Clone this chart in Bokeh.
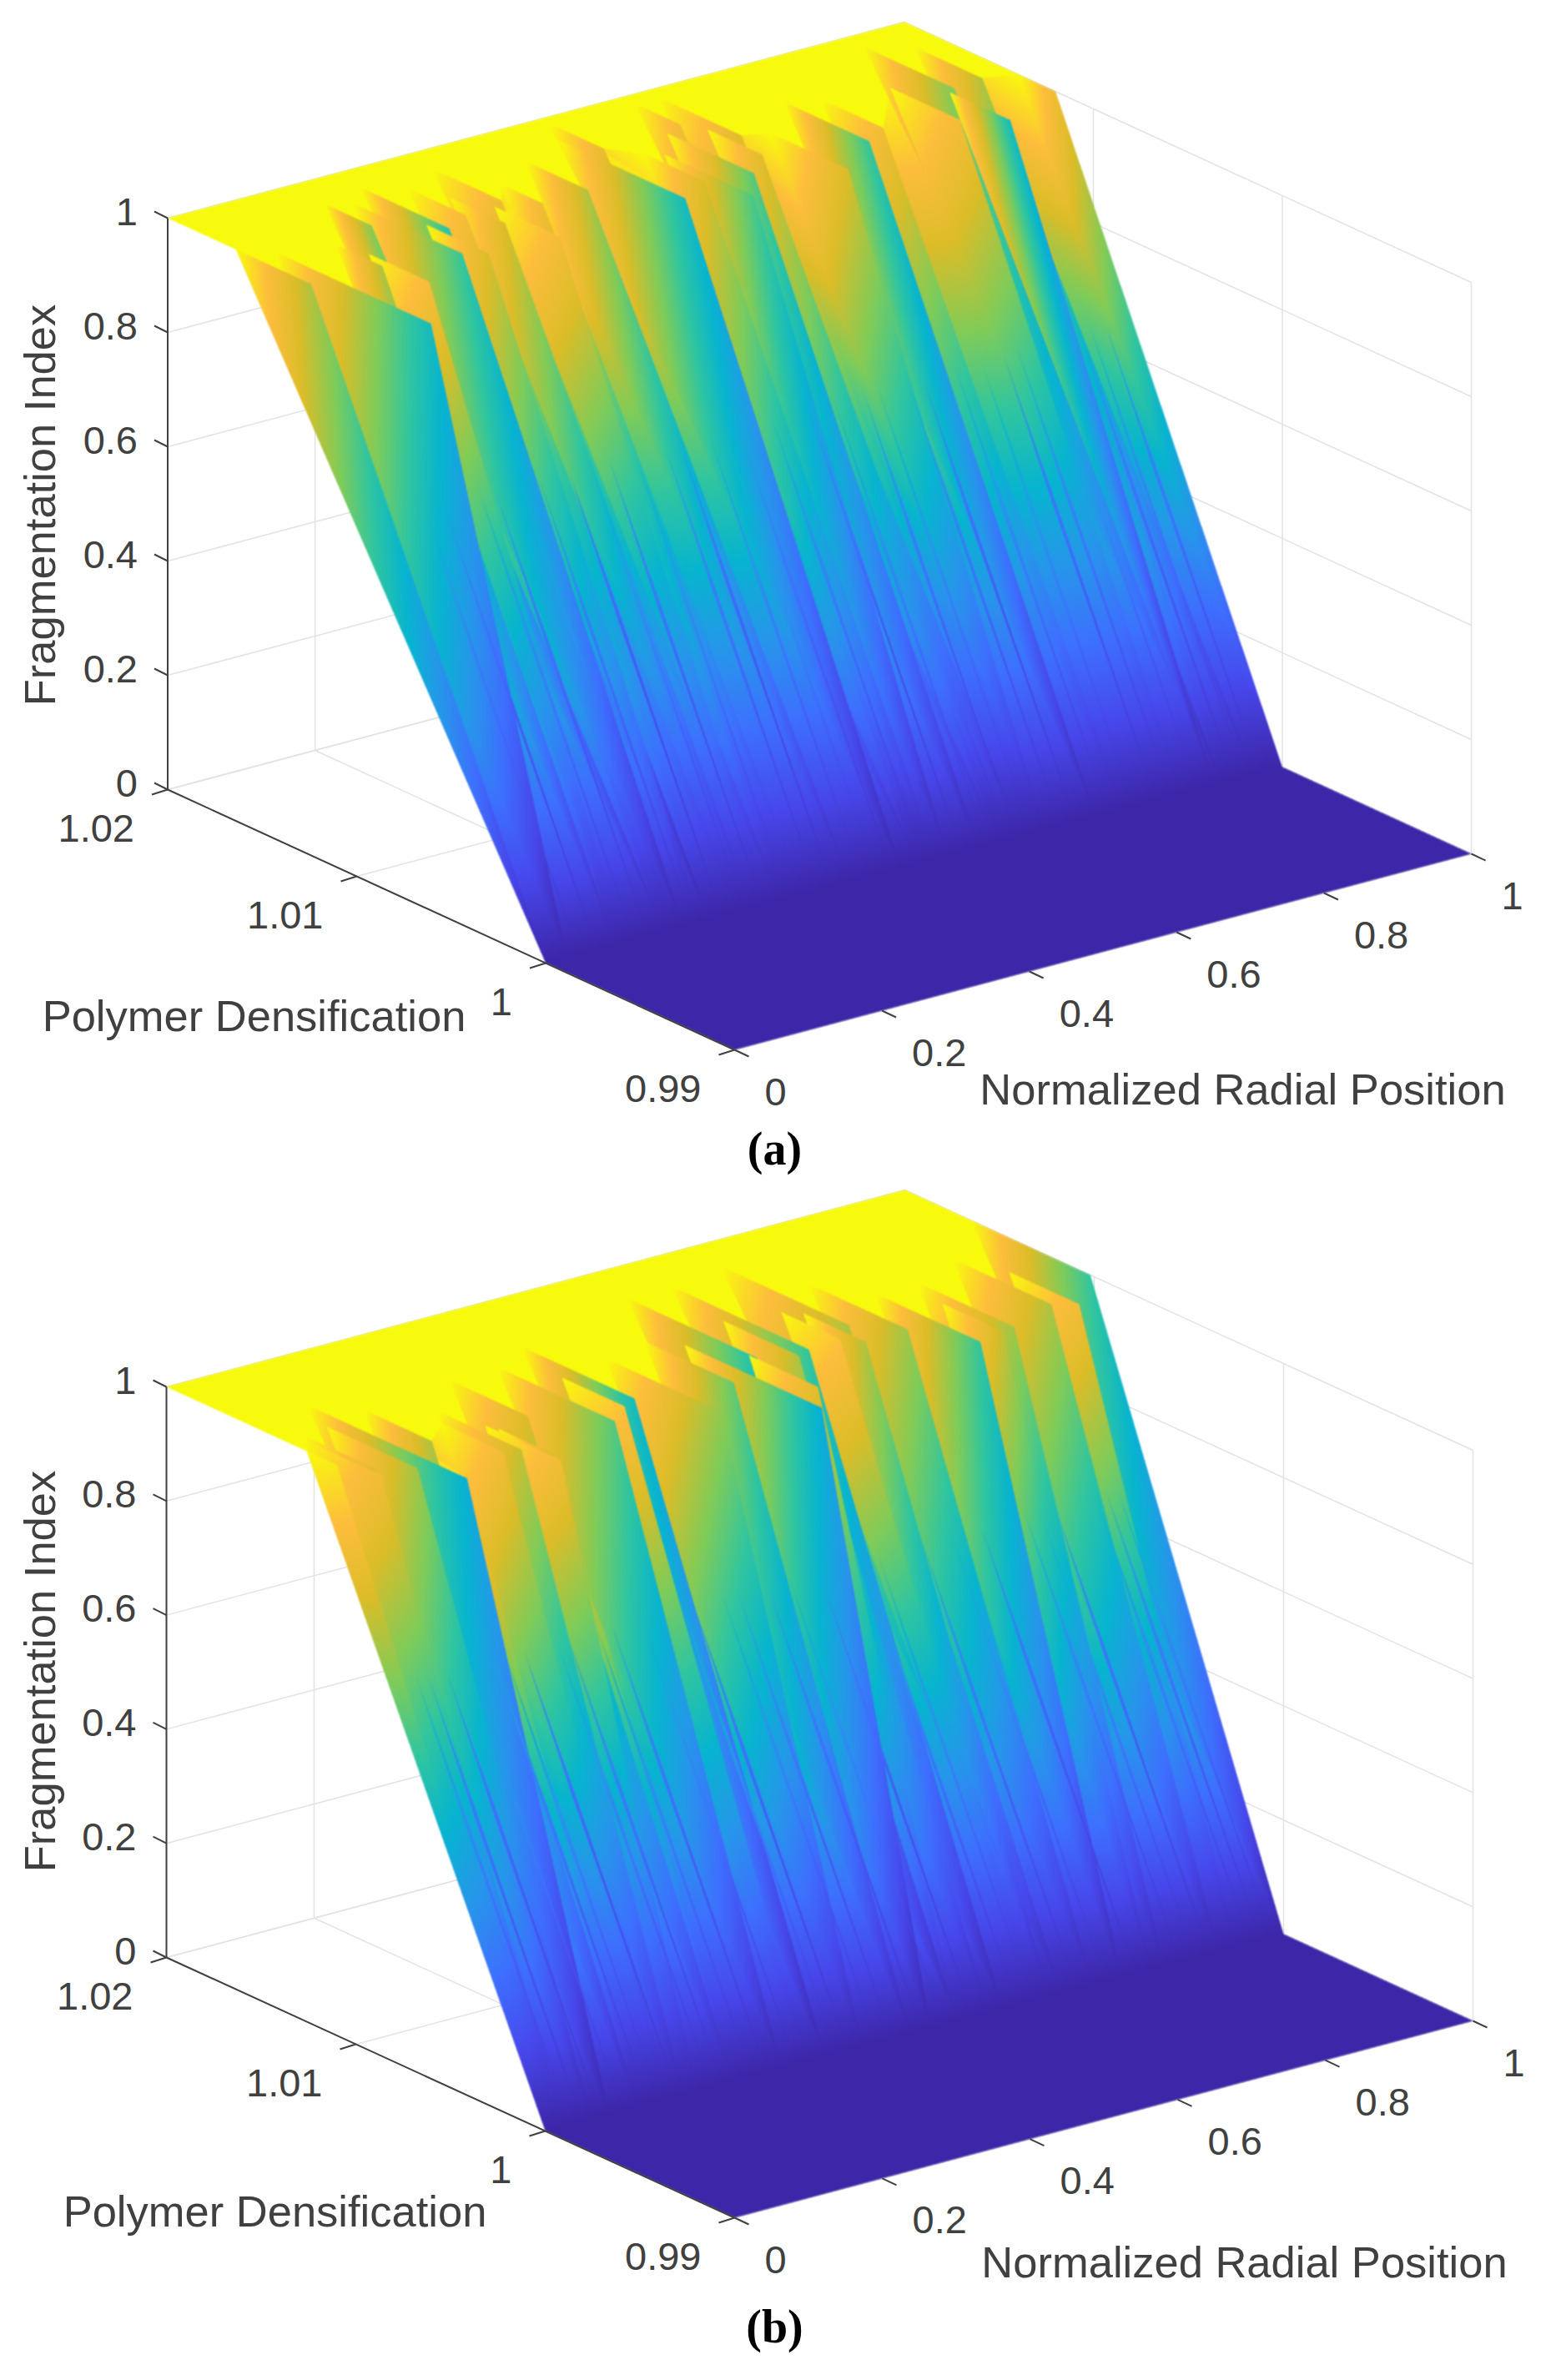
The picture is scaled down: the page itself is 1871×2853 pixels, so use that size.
from bokeh.embed import file_html
from bokeh.resources import INLINE
from bokeh.plotting import figure
from bokeh.core.properties import value
import numpy as np

# ---------- DATA: sawtooth ridge of the surface ----------
z_ticks = [0, 0.2, 0.4, 0.6, 0.8, 1]
z_tick_labels = ["0", "0.2", "0.4", "0.6", "0.8", "1"]
rad_ticks = [0, 0.2, 0.4, 0.6, 0.8, 1]
rad_tick_labels = ["0", "0.2", "0.4", "0.6", "0.8", "1"]
dens_ticks = [0.99, 1.0, 1.01, 1.02]
dens_tick_labels = ["0.99", "1", "1.01", "1.02"]

# Panel (a): radial position, near/far densification at which index reaches 1, colour value at near end
a_rad = [0.0, 0.029, 0.095, 0.106, 0.1615, 0.187, 0.21, 0.223, 0.262, 0.281, 0.3025, 0.32, 0.35, 0.414, 0.482,
         0.505, 0.53, 0.546, 0.588, 0.616, 0.63, 0.648, 0.677, 0.747, 0.784, 0.865, 0.9076, 0.919, 0.962, 1.0]
a_near = [1.0124, 1.0072, 1.01235, 1.0103, 1.0155, 1.0117, 1.0112, 1.0138, 1.01445, 1.0131, 1.0110, 1.0148, 1.0138, 1.0139, 1.0114,
          1.0166, 1.01225, 1.0103, 1.0119, 1.0169, 1.0131, 1.0149, 1.0104, 1.012, 1.0127, 1.0118, 1.0108, 1.0142, 1.0144, 1.012]
a_far = [1.0164, 1.0154, 1.0148, 1.0135, 1.018, 1.0175, 1.0145, 1.0185, 1.0175, 1.016, 1.0145, 1.0185, 1.016, 1.0172, 1.0181,
         1.0195, 1.0155, 1.015, 1.0165, 1.0193, 1.016, 1.0193, 1.0145, 1.0165, 1.016, 1.0155, 1.014, 1.019, 1.018, 1.014]
a_col = [0.72, 0.48, 0.72, 0.87, 0.66, 0.55, 0.78, 0.52, 0.86, 0.78, 0.86, 0.84, 0.84, 0.72, 0.48,
         0.82, 0.78, 0.58, 0.60, 0.85, 0.80, 0.80, 0.78, 0.55, 0.85, 0.86, 0.48, 0.65, 0.72, 0.84]
# fine streaks on the lower slope of (a): radial position at the foot, colour value
a_streak_rad = [0.045, 0.07, 0.12, 0.14, 0.175, 0.2, 0.24, 0.27, 0.295, 0.33, 0.37, 0.39, 0.43, 0.45, 0.47,
                0.515, 0.565, 0.6, 0.64, 0.66, 0.7, 0.72, 0.765, 0.8, 0.83, 0.85, 0.885, 0.935, 0.95, 0.97]
a_streak_col = [0.62, 0.50, 0.70, 0.55, 0.75, 0.60, 0.45, 0.70, 0.55, 0.72, 0.60, 0.48, 0.70, 0.80, 0.55,
                0.65, 0.50, 0.72, 0.60, 0.78, 0.62, 0.50, 0.70, 0.80, 0.55, 0.66, 0.75, 0.55, 0.68, 0.60]

# Panel (b)
b_rad = [0.0, 0.019, 0.0266, 0.063, 0.0865, 0.126, 0.167, 0.187, 0.201, 0.206, 0.255, 0.32, 0.356, 0.379, 0.429, 0.494,
         0.522, 0.558, 0.56, 0.60, 0.62, 0.666, 0.683, 0.70, 0.742, 0.781, 0.82, 0.838, 0.912, 0.936, 1.0]
b_near = [1.011, 1.0094, 1.010, 1.0092, 1.0075, 1.0109, 1.00873, 1.00854, 1.007, 1.0076, 1.01086, 1.0088, 1.0097, 1.01006, 1.0074, 1.0093,
          1.00575, 1.00735, 1.01066, 1.010, 1.01025, 1.0104, 1.0097, 1.01125, 1.0098, 1.00747, 1.0078, 1.0079, 1.00883, 1.0083, 1.0102]
b_far = [1.0126, 1.0135, 1.0138, 1.014, 1.0159, 1.0145, 1.012, 1.013, 1.011, 1.0105, 1.015, 1.015, 1.013, 1.016, 1.0135, 1.014,
         1.013, 1.011, 1.0175, 1.014, 1.0175, 1.0135, 1.013, 1.018, 1.015, 1.013, 1.011, 1.013, 1.014, 1.012, 1.0165]
b_col = [0.97, 0.85, 0.80, 0.70, 0.42, 0.72, 0.85, 0.75, 0.85, 0.78, 0.78, 0.60, 0.90, 0.48, 0.68, 0.62,
         0.42, 0.80, 0.50, 0.72, 0.55, 0.90, 0.72, 0.72, 0.70, 0.55, 0.75, 0.70, 0.72, 0.85, 0.55]
b_streak_rad = [0.035, 0.05, 0.075, 0.105, 0.14, 0.155, 0.18, 0.225, 0.24, 0.28, 0.3, 0.34, 0.395, 0.41, 0.45,
                0.47, 0.51, 0.54, 0.58, 0.64, 0.66, 0.72, 0.76, 0.8, 0.86, 0.88, 0.9, 0.955, 0.97, 0.985]
b_streak_col = [0.70, 0.55, 0.50, 0.68, 0.60, 0.75, 0.50, 0.70, 0.60, 0.72, 0.55, 0.66, 0.78, 0.50, 0.70,
                0.60, 0.55, 0.72, 0.50, 0.65, 0.78, 0.60, 0.70, 0.50, 0.66, 0.75, 0.55, 0.70, 0.60, 0.68]

# ---------- colour map ----------
PAR_V = np.array([0, .11, .22, .33, .44, .55, .66, .78, .89, 1.0])
PAR_R = np.array([.2422, .2803, .2440, .1540, .0297, .1938, .5044, .8634, .9932, .9763])
PAR_G = np.array([.1504, .2782, .4358, .5902, .7082, .7758, .7993, .7406, .7439, .9831])
PAR_B = np.array([.6603, .9221, .9988, .9218, .8163, .6251, .3480, .1596, .2387, .0538])

W, H = 1855, 2837
p = figure(width=W, height=H, x_range=(0, W), y_range=(-H, 0), toolbar_location=None,
           output_backend="svg", min_border=0, outline_line_color=None, background_fill_color="white")
p.axis.visible = False
p.grid.visible = False

GRID = "#e3e3e3"
AX = "#404040"
TXT = "#404040"
SANS = value("Liberation Sans")
SS = 2


def soften(v):
    out = v.astype(np.float32).copy()
    for ax in (0, 1):
        out = (np.roll(out, 1, ax) + 2 * out + np.roll(out, -1, ax)) / 4
    return out


def raster(tris, x0, y0, w, h):
    """Shade the triangles (far to near) into an RGBA picture, value linear across each."""
    cv = np.zeros((h * SS, w * SS), dtype=np.float32)
    cov = np.zeros((h * SS, w * SS), dtype=bool)
    for (pa, pb, pc, ca, cb, cc) in tris:
        ax, ay = (pa[0] - x0) * SS, (pa[1] - y0) * SS
        bx, by = (pb[0] - x0) * SS, (pb[1] - y0) * SS
        qx, qy = (pc[0] - x0) * SS, (pc[1] - y0) * SS
        d = (by - qy) * (ax - qx) + (qx - bx) * (ay - qy)
        if abs(d) < 1e-6:
            continue
        i0 = max(int(min(ax, bx, qx)) - 1, 0)
        i1 = min(int(max(ax, bx, qx)) + 2, w * SS)
        j0 = max(int(min(ay, by, qy)) - 1, 0)
        j1 = min(int(max(ay, by, qy)) + 2, h * SS)
        if i1 <= i0 or j1 <= j0:
            continue
        xx, yy = np.meshgrid(np.arange(i0, i1) + .5, np.arange(j0, j1) + .5)
        l0 = ((by - qy) * (xx - qx) + (qx - bx) * (yy - qy)) / d
        l1 = ((qy - ay) * (xx - qx) + (ax - qx) * (yy - qy)) / d
        l2 = 1 - l0 - l1
        m = (l0 >= 0) & (l1 >= 0) & (l2 >= 0)
        sub = cv[j0:j1, i0:i1]
        sub[m] = (l0 * ca + l1 * cb + l2 * cc)[m]
        cov[j0:j1, i0:i1] |= m
    rgb = np.stack([np.interp(cv, PAR_V, PAR_R), np.interp(cv, PAR_V, PAR_G), np.interp(cv, PAR_V, PAR_B)], -1)
    a = cov.astype(np.float32)
    prem = rgb * a[..., None]

    def down(v):
        sh = (h, SS, w, SS) + v.shape[2:]
        return v.reshape(sh).mean(axis=(1, 3))
    prem, a = soften(down(prem)), soften(down(a))
    out = np.zeros((h, w, 4), dtype=np.uint8)
    safe = np.maximum(a, 1e-4)[..., None]
    out[..., :3] = np.clip(prem / safe * 255, 0, 255).astype(np.uint8)
    out[..., 3] = np.clip(a * 255, 0, 255).astype(np.uint8)
    return out


def panel(cx, cy, rvec, yvec, zh, rad, near, far, col, s_rad, s_col, tag, centre, lab_frag, lab_poly, lab_norm, top):
    def P(r, d, z):
        b = (d - 0.99) / 0.01
        return cx + rvec[0] * r + yvec[0] * b, cy + rvec[1] * r + yvec[1] * b - zh * z

    def seg(a, c, color=GRID, w=1.5):
        p.line([a[0], c[0]], [-a[1], -c[1]], line_color=color, line_width=w)

    # box grid
    for z in z_ticks:
        seg(P(0, 1.02, z), P(1, 1.02, z))
        seg(P(1, 1.02, z), P(1, 0.99, z))
    for r in rad_ticks:
        seg(P(r, 1.02, 0), P(r, 1.02, 1))
        seg(P(r, 0.99, 0), P(r, 1.02, 0))
    for d in dens_ticks:
        seg(P(1, d, 0), P(1, d, 1))
        seg(P(0, d, 0), P(1, d, 0))

    tris = []
    # floor
    a, b, c, d = P(0, .99, 0), P(1, .99, 0), P(1, 1.0, 0), P(0, 1.0, 0)
    tris += [(a, b, c, 0, 0, 0), (a, c, d, 0, 0, 0)]
    # plateau underlay, from the far edge to the ridge
    order = sorted(zip(rad, near))
    prev_r, prev_n = 0.0, far[0]
    for r, n in order + [(1.0, near[-1])]:
        a, b, c, d = P(prev_r, 1.02, 1), P(r, 1.02, 1), P(r, n, 1), P(prev_r, prev_n, 1)
        tris += [(a, b, c, 1, 1, 1), (a, c, d, 1, 1, 1)]
        prev_r, prev_n = r, n
    n = len(rad)
    # slopes joining neighbouring ridges, far to near
    for k in range(n - 1, 0, -1):
        ta, tb = P(rad[k - 1], near[k - 1], 1), P(rad[k], far[k], 1)
        ba, bb = P(rad[k - 1], 1.0, 0), P(rad[k], 1.0, 0)
        tris += [(ta, tb, bb, .95, 1.0, 0), (ta, bb, ba, .95, 0, 0)]
    # the ridges themselves, far to near
    for k in range(n - 1, -1, -1):
        tris.append((P(rad[k], far[k], 1), P(rad[k], near[k], 1), P(rad[k], 1.0, 0), 1.0, col[k], 0.0))
    # fine streaks on the lower slope
    for r, c in zip(s_rad, s_col):
        v0 = 0.56
        zv = 1 - v0
        d1, d2, dm = 1.0 + 0.0127 * zv, 1.0 + 0.0122 * zv, 1.0 + 0.0124 * (zv + .22)
        cv0 = c * zv
        L, R = P(r, d1, zv), P(r, d2, zv)
        foot, tip = P(r, 1.0, 0), P(r, dm, zv + .22)
        tris.append((L, R, foot, cv0, cv0, 0.0))
        tris.append((L, R, tip, cv0, cv0, c * (zv + .22)))

    x0, w = 150, 1690
    y0, h = top, 1290
    im = raster(tris, x0, y0, w, h)
    rgba = np.flipud(im).copy().view(dtype=np.uint32).reshape(h, w)
    p.image_rgba(image=[rgba], x=x0, y=-(y0 + h), dw=w, dh=h)

    # axes
    seg(P(0, 1.02, 0), P(0, 1.02, 1), AX, 2)
    seg(P(0, 1.02, 0), P(0, 0.99, 0), AX, 2)
    for z, t in zip(z_ticks, z_tick_labels):
        a = P(0, 1.02, z)
        seg(a, (a[0] - 16, a[1] - 8), AX, 2)
        p.text([a[0] - 36], [-(a[1] - 8)], text=[t], text_font=SANS, text_font_size="47px", text_color=TXT,
               text_align="right", text_baseline="middle")
    for d, t in zip(dens_ticks, dens_tick_labels):
        a = P(0, d, 0)
        seg(a, (a[0] - 19, a[1] + 6), AX, 2)
        p.text([a[0] - 40], [-(a[1] + 46)], text=[t], text_font=SANS, text_font_size="47px", text_color=TXT,
               text_align="right", text_baseline="middle")
    for r, t in zip(rad_ticks, rad_tick_labels):
        a = P(r, 0.99, 0)
        seg(a, (a[0] + 17, a[1] + 8), AX, 2)
        p.text([a[0] + 36], [-(a[1] + 50)], text=[t], text_font=SANS, text_font_size="47px", text_color=TXT,
               text_align="left", text_baseline="middle")

    p.text([lab_frag[0]], [-lab_frag[1]], text=["Fragmentation Index"], angle=np.pi / 2, text_font=SANS,
           text_font_size="52.5px", text_color=TXT, text_align="center", text_baseline="middle")
    p.text([lab_poly[0]], [-lab_poly[1]], text=["Polymer Densification"], text_font=SANS,
           text_font_size="52.5px", text_color=TXT, text_align="center", text_baseline="middle")
    p.text([lab_norm[0]], [-lab_norm[1]], text=["Normalized Radial Position"], text_font=SANS,
           text_font_size="52.5px", text_color=TXT, text_align="center", text_baseline="middle")
    p.text([centre[0]], [-centre[1]], text=[tag], text_font=value("Liberation Serif"), text_font_style="bold",
           text_font_size="56px", text_color="black", text_align="center", text_baseline="middle")


panel(880, 1258, (883, -235), (-226.5, -104), 685, a_rad, a_near, a_far, a_col, a_streak_rad, a_streak_col, "(a)", (928, 1376),
      (47, 605), (304, 1217), (1489, 1305), 0)
panel(880, 2658, (885, -236), (-227, -104), 684, b_rad, b_near, b_far, b_col, b_streak_rad, b_streak_col, "(b)", (928, 2788),
      (47, 2003), (329, 2650), (1491, 2711), 1400)

open("out.html", "w").write(file_html(p, INLINE))
